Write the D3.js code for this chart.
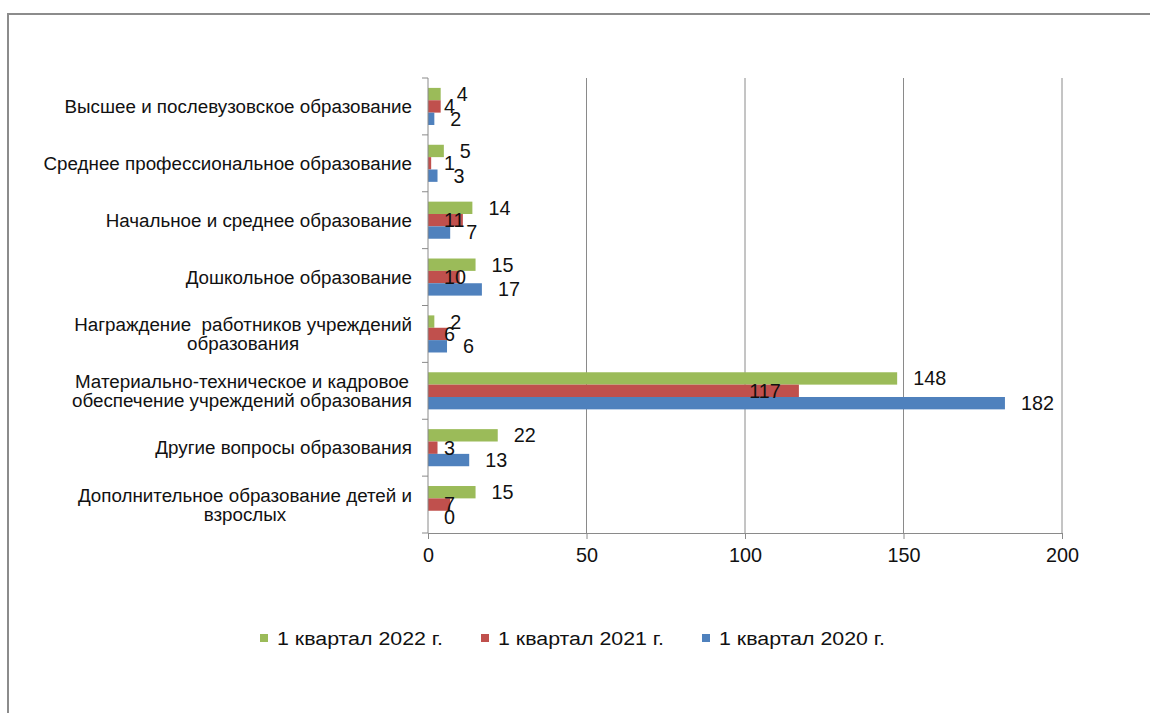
<!DOCTYPE html>
<html>
<head>
<meta charset="utf-8">
<script src="https://cdn.jsdelivr.net/npm/d3@7"></script>
<style>
  body { margin: 0; background: #fff; }
  text { font-family: "Liberation Sans", Arial, sans-serif; fill: #111; }
</style>
</head>
<body>
<div id="chart"></div>
<script>
// categories, top to bottom
let categories = [
  ['Высшее и послевузовское образование'],
  ['Среднее профессиональное образование'],
  ['Начальное и среднее образование'],
  ['Дошкольное образование'],
  ['Награждение  работников учреждений', 'образования'],
  ['Материально-техническое и кадровое', 'обеспечение учреждений образования'],
  ['Другие вопросы образования'],
  ['Дополнительное образование детей и', 'взрослых']
];

let seriesNames = ['1 квартал 2022 г.', '1 квартал 2021 г.', '1 квартал 2020 г.'];
let seriesColors = ['#9bbb59', '#c0504d', '#4f81bd'];

let q2022 = [4, 5, 14, 15, 2, 148, 22, 15];
let q2021 = [4, 1, 11, 10, 6, 117, 3, 7];
let q2020 = [2, 3, 7, 17, 6, 182, 13, 0];

let xTicks = [0, 50, 100, 150, 200];

let width = 1150;
let height = 713;
let plotLeft = 428, plotRight = 1062, plotTop = 78, plotBottom = 533;
let catFont = 18.8;
let numFont = 19.8;

let svg = d3.select('#chart')
  .append('svg')
  .attr('width', width)
  .attr('height', height);

// outer frame of the chart object
svg.append('rect')
  .attr('x', 8)
  .attr('y', 14)
  .attr('width', width + 20)
  .attr('height', height + 20)
  .attr('fill', 'none')
  .attr('stroke', '#8c8c8c')
  .attr('stroke-width', 2);

let x = d3.scaleLinear().domain([0, 200]).range([plotLeft, plotRight]);

let y = d3.scaleBand()
  .domain(d3.range(categories.length))
  .range([plotTop, plotBottom]);

let ySub = d3.scaleBand()
  .domain(d3.range(seriesNames.length))
  .range([0, y.bandwidth()])
  .paddingOuter(0.8);

// vertical gridlines
svg.append('g')
  .selectAll('line')
  .data(xTicks.slice(1))
  .enter()
  .append('line')
  .attr('x1', d => x(d)).attr('x2', d => x(d))
  .attr('y1', plotTop).attr('y2', plotBottom)
  .attr('stroke', '#8a8a8a')
  .attr('stroke-width', 1);

// bars
let values = [q2022, q2021, q2020];
let bars = [];
values.forEach((vals, s) => {
  vals.forEach((v, i) => bars.push({ s: s, i: i, v: v }));
});

svg.append('g')
  .selectAll('rect')
  .data(bars)
  .enter()
  .append('rect')
  .attr('x', x(0))
  .attr('y', d => y(d.i) + ySub(d.s))
  .attr('width', d => x(d.v) - x(0))
  .attr('height', ySub.bandwidth())
  .attr('fill', d => seriesColors[d.s]);

// x axis
let xAxis = svg.append('g')
  .attr('transform', 'translate(0,' + plotBottom + ')')
  .call(d3.axisBottom(x).tickValues(xTicks).tickSize(6).tickPadding(9));
xAxis.selectAll('line, path').attr('stroke', '#8a8a8a');
xAxis.select('.domain').attr('d', 'M' + plotLeft + ',0.5H' + plotRight);
xAxis.selectAll('text')
  .style('font-family', '"Liberation Sans", Arial, sans-serif')
  .style('font-size', numFont + 'px')
  .attr('fill', '#111');

// y axis line with ticks at category boundaries
let yAxis = svg.append('g');
yAxis.append('line')
  .attr('x1', plotLeft).attr('x2', plotLeft)
  .attr('y1', plotTop).attr('y2', plotBottom)
  .attr('stroke', '#8a8a8a');
yAxis.selectAll('.tk')
  .data(d3.range(categories.length + 1))
  .enter()
  .append('line')
  .attr('x1', plotLeft - 6).attr('x2', plotLeft)
  .attr('y1', i => plotTop + i * y.step()).attr('y2', i => plotTop + i * y.step())
  .attr('stroke', '#8a8a8a');

// category labels, centred block ending at the same right edge
let labelRight = 412;
let lineGap = 19;
categories.forEach((lines, i) => {
  let g = svg.append('g');
  let texts = lines.map((t, k) => g.append('text')
    .attr('y', y(i) + y.bandwidth() / 2 + (k - (lines.length - 1) / 2) * lineGap)
    .attr('dy', '0.35em')
    .attr('text-anchor', 'middle')
    .style('font-size', catFont + 'px')
    .style('white-space', 'pre')
    .text(t));
  let w = d3.max(texts, t => t.node().getComputedTextLength());
  texts.forEach(t => t.attr('x', labelRight - w / 2));
});

// data labels
let labels = svg.append('g')
  .selectAll('text')
  .data(bars)
  .enter()
  .append('text')
  .attr('y', d => y(d.i) + ySub(d.s) + ySub.bandwidth() / 2)
  .attr('dy', '0.35em')
  .style('font-size', numFont + 'px')
  .text(d => d.v);

labels.attr('x', function(d) {
  if (d.s !== 1) return x(d.v) + 16;
  let w = this.getComputedTextLength();
  return Math.max(x(d.v) - 18 - w, x(0) + 16);
});

// legend
let legend = svg.append('g')
  .selectAll('g')
  .data(seriesNames)
  .enter()
  .append('g')
  .attr('transform', (d, i) => 'translate(' + (260 + i * 221) + ',638)');

legend.append('rect')
  .attr('x', 0).attr('y', -4)
  .attr('width', 8).attr('height', 8)
  .attr('fill', (d, i) => seriesColors[i]);

legend.append('text')
  .attr('x', 17)
  .attr('dy', '0.35em')
  .attr('textLength', 166)
  .attr('lengthAdjust', 'spacingAndGlyphs')
  .style('font-size', catFont + 'px')
  .text(d => d);
</script>
</body>
</html>
